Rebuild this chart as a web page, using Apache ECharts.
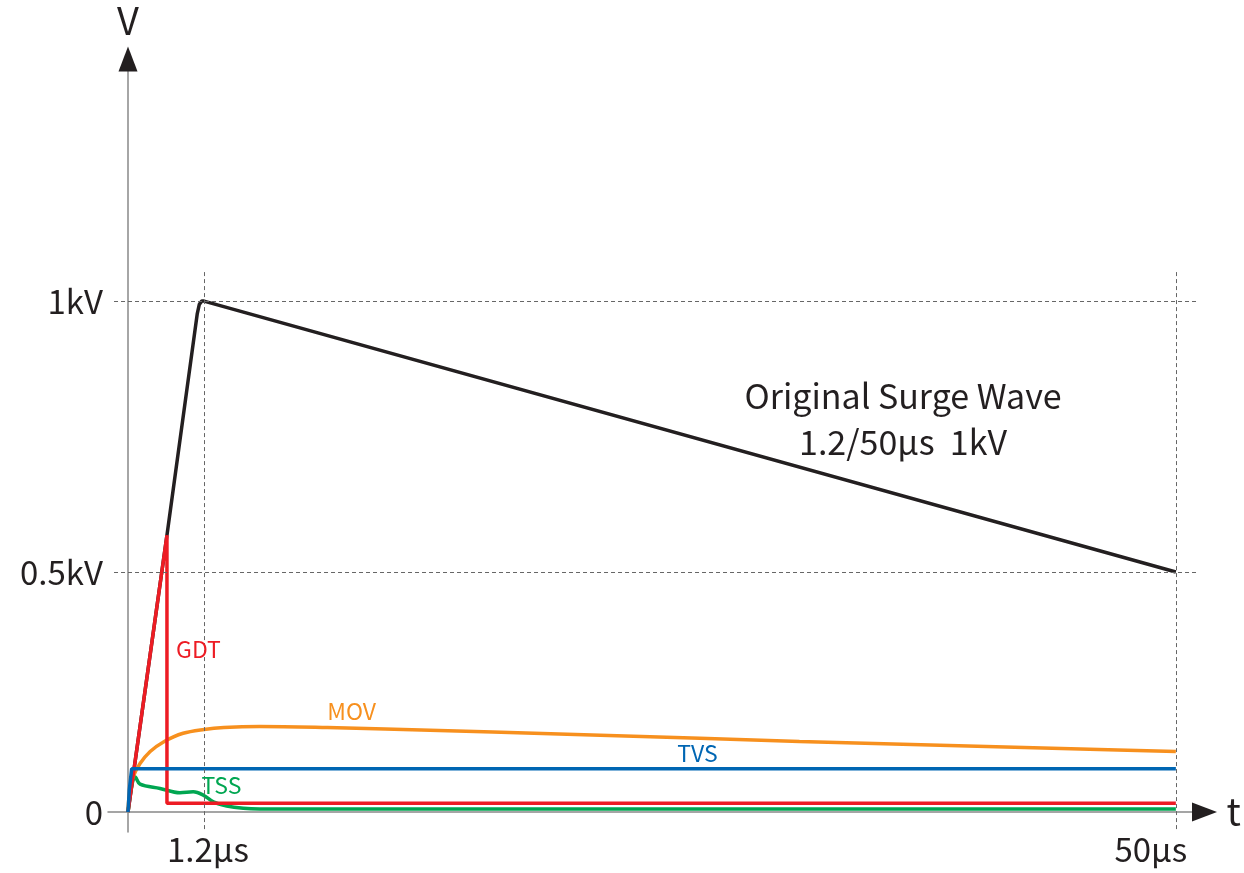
<!DOCTYPE html>
<html>
<head>
<meta charset="utf-8">
<script src="https://cdn.jsdelivr.net/npm/echarts@6/dist/echarts.min.js"></script>
<style>
  html, body { margin: 0; padding: 0; background: #fff; }
  #main { width: 1244px; height: 873px; }
</style>
</head>
<body>
<div id="main"></div>
<script>
// values: [time in µs, voltage in kV]
var surgeWave = [[0, 0], [0.615, 0.568], [1.094, 0.977], [1.126, 0.994], [1.164, 1.0], [1.2, 1.0], [50, 0.5]];
var gdt = [[0, 0], [0.615, 0.568], [0.615, 0.018], [50, 0.018]];
var mov = [[0, 0.005], [0.03, 0.046], [0.084, 0.074], [0.19, 0.101], [0.35, 0.126], [0.56, 0.146], [0.87, 0.164],
           [1.2, 0.172], [2.2, 0.176], [4.0, 0.178], [7.4, 0.176], [10.3, 0.173], [21.1, 0.16], [31.1, 0.147],
           [45.2, 0.131], [50, 0.126]];
var tvs = [[0, 0], [0.02, 0.046], [0.058, 0.09], [50, 0.09]];
var tss = [[0, 0], [0.06, 0.055], [0.11, 0.0735], [0.19, 0.058], [0.505, 0.049], [0.82, 0.04], [1.03, 0.042],
           [1.19, 0.035], [1.67, 0.021], [2.34, 0.0125], [3.17, 0.0077], [4.0, 0.0063], [50, 0.0063]];

var xTickValues = [1.2, 50];
var xTickLabels = ['1.2µs', '50µs'];
var yTickValues = [0, 0.5, 1];
var yTickLabels = ['0', '0.5kV', '1kV'];

// the drawing is schematic: the rise (0..1.2µs) and the tail (1.2..50µs) have their own scales,
// and so do 0..0.5kV and 0.5..1kV. these map real units onto the (linear) echarts axes
function tx(t) { return t <= 1.2 ? t : 1.2 + (t - 1.2) * 0.3145; }
function ty(v) { return v <= 0.5 ? v : 0.5 + (v - 0.5) * 1.129; }
function conv(arr) { return arr.map(function (p) { return [tx(p[0]), ty(p[1])]; }); }

var FONT = "'Noto Sans CJK JP', 'Noto Sans', sans-serif";
var INK = '#231f20';

var chart = echarts.init(document.getElementById('main'));

function guide(x0, y0, x1, y1) {
  return [{ coord: [x0, y0] }, { coord: [x1, y1] }];
}

function note(text, t, v, color) {
  return {
    coord: [tx(t), ty(v)],
    symbol: 'circle', symbolSize: 1,
    itemStyle: { color: 'rgba(0,0,0,0)' },
    label: { show: true, position: 'inside', formatter: text, color: color, fontSize: 23, fontFamily: FONT }
  };
}

function lineSeries(name, data, color, smooth, notes) {
  return {
    name: name, type: 'line', data: conv(data), smooth: smooth,
    showSymbol: false, symbol: 'none', xAxisIndex: 0, yAxisIndex: 0,
    lineStyle: { color: color, width: 3.5 },
    markPoint: notes ? { silent: true, data: notes } : undefined
  };
}

var option = {
  animation: false,
  backgroundColor: '#fff',
  grid: { left: 108, right: 39.5, top: 59, bottom: 41, containLabel: false, outerBoundsMode: 'none' },
  xAxis: [{
    type: 'value', min: -0.316, max: 17.0,
    axisLine: { onZero: true, lineStyle: { color: '#888', width: 1.5 } },
    axisTick: { show: false },
    splitLine: { show: false },
    axisLabel: {
      customValues: xTickValues.map(tx), margin: 1,
      fontSize: 33, fontFamily: FONT, color: INK,
      formatter: function (val) {
        var i = xTickValues.map(tx).findIndex(function (u) { return Math.abs(u - val) < 1e-6; });
        return i === 0 ? '{a|' + xTickLabels[0] + '}' : '{b|' + xTickLabels[1] + '}';
      },
      rich: {
        a: { fontSize: 33, fontFamily: FONT, color: INK, padding: [0, 0, 0, 8] },
        b: { fontSize: 33, fontFamily: FONT, color: INK, padding: [0, 50, 0, 0] }
      }
    }
  }, {
    // arrow head only
    type: 'value', min: -0.316, max: 17.0, position: 'bottom',
    name: 't', nameLocation: 'end', nameGap: 22,
    nameTextStyle: { fontSize: 38, fontFamily: FONT, color: INK, verticalAlign: 'middle' },
    axisLine: { onZero: true, onZeroAxisIndex: 0, symbol: ['none', 'triangle'], symbolSize: [19, 25], lineStyle: { color: INK, width: 0 } },
    axisTick: { show: false }, axisLabel: { show: false }, splitLine: { show: false }
  }],
  yAxis: [{
    type: 'value', min: -0.0417, max: 1.569,
    axisLine: { onZero: true, lineStyle: { color: '#888', width: 1.5 } },
    axisTick: { show: false },
    splitLine: { show: false },
    axisLabel: {
      customValues: yTickValues.map(ty), margin: 5,
      fontSize: 33, fontFamily: FONT, color: INK,
      formatter: function (val) {
        var i = yTickValues.map(ty).findIndex(function (u) { return Math.abs(u - val) < 1e-6; });
        return yTickLabels[i];
      }
    }
  }, {
    type: 'value', min: -0.0417, max: 1.569, position: 'left',
    name: 'V', nameLocation: 'end', nameGap: 38,
    nameTextStyle: { fontSize: 38, fontFamily: FONT, color: INK, verticalAlign: 'middle', align: 'center' },
    axisLine: { onZero: true, onZeroAxisIndex: 0, symbol: ['none', 'triangle'], symbolSize: [19, 25], lineStyle: { color: INK, width: 0 } },
    axisTick: { show: false }, axisLabel: { show: false }, splitLine: { show: false }
  }],
  series: [
    {
      name: 'Surge', type: 'line', data: conv(surgeWave), showSymbol: false, symbol: 'none',
      lineStyle: { color: INK, width: 3.5 },
      markLine: {
        silent: true, symbol: 'none', animation: false,
        label: { show: false },
        lineStyle: { color: '#666', width: 1, type: [4, 3] },
        data: [
          guide(-0.221, ty(1), 16.91, ty(1)),
          guide(-0.221, ty(0.5), 16.91, ty(0.5)),
          guide(tx(1.2), 1.125, tx(1.2), -0.0375),
          guide(tx(50), 1.125, tx(50), -0.0375)
        ]
      },
      markPoint: {
        silent: true,
        data: [{
          coord: [tx(36.3), ty(0.782)], symbol: 'circle', symbolSize: 1,
          itemStyle: { color: 'rgba(0,0,0,0)' },
          label: {
            show: true, position: 'inside', formatter: 'Original Surge Wave\n1.2/50µs  1kV',
            color: INK, fontSize: 34, lineHeight: 46, fontFamily: FONT, align: 'center'
          }
        }]
      }
    },
    lineSeries('TSS', tss, '#00a651', 0.35, [note('TSS', 2.08, 0.056, '#00a651')]),
    lineSeries('MOV', mov, '#f7901e', 0.35, [note('MOV', 8.61, 0.21, '#f7901e')]),
    lineSeries('GDT', gdt, '#ed1c24', false, [note('GDT', 1.113, 0.339, '#ed1c24')]),
    lineSeries('TVS', tvs, '#0066b3', false, [note('TVS', 25.98, 0.122, '#0066b3')])
  ]
};

chart.setOption(option);
</script>
</body>
</html>
